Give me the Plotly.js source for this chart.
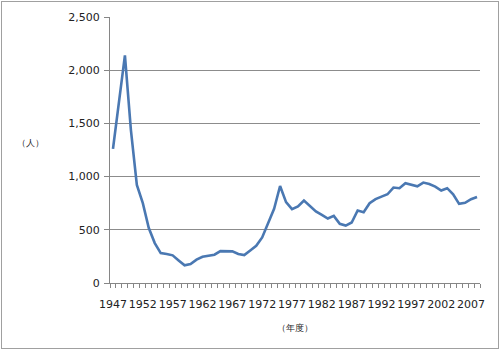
<!DOCTYPE html>
<html>
<head>
<meta charset="utf-8">
<script src="https://cdn.plot.ly/plotly-3.0.1.min.js"></script>
<style>
html,body{margin:0;padding:0;background:#fff;}
#chart{position:absolute;left:0;top:0;width:500px;height:350px;}
#frame{position:absolute;left:1px;top:1px;width:496px;height:346px;border:1px solid #a0a0a0;pointer-events:none;z-index:10;}
</style>
</head>
<body>
<div id="chart"></div>
<div id="frame"></div>
<script>
const years = [];
for (let y = 1947; y <= 2008; y++) years.push(y);
const values = [
  1260, 1680, 2140, 1440, 922, 750, 516, 375, 281, 272,
  260, 212, 166, 178, 219, 247, 260, 266, 300, 300,
  297, 272, 262, 306, 350, 428, 556, 697, 912, 760,
  694, 719, 775, 719, 672, 640, 606, 631, 556, 540,
  569, 681, 666, 750, 788, 812, 834, 897, 891, 938,
  925, 909, 944, 931, 906, 869, 891, 834, 744, 753,
  788, 809
];
const labelYears = [1947, 1952, 1957, 1962, 1967, 1972, 1977, 1982, 1987, 1992, 1997, 2002, 2007];
const yTicks = [0, 500, 1000, 1500, 2000, 2500];

const trace = {
  x: years, y: values, type: 'scatter', mode: 'lines',
  line: {color: '#4a78b2', width: 2.6},
  hoverinfo: 'skip'
};
const layout = {
  width: 500, height: 350,
  margin: {l: 110, r: 20, t: 17, b: 67},
  paper_bgcolor: '#fff', plot_bgcolor: '#fff',
  showlegend: false,
  font: {family: '"DejaVu Sans", sans-serif', size: 11, color: '#222'},
  xaxis: {
    range: [1946.5, 2008.5],
    tickvals: labelYears, ticktext: labelYears.map(String),
    tickangle: 0,
    ticks: '', showgrid: false, zeroline: false,
    showline: true, linecolor: '#868686', linewidth: 1,
    ticklabelstandoff: 11,
    minor: {ticks: 'outside', tick0: 1946.5, dtick: 1, ticklen: 4, tickcolor: '#868686', showgrid: false},
    tickfont: {size: 11, color: '#222'},
    title: {text: '（年度）', font: {size: 9, color: '#222'}, standoff: 14}
  },
  yaxis: {
    range: [0, 2500],
    tickvals: yTicks, ticktext: yTicks.map(v => v.toLocaleString('en-US')),
    ticks: 'outside', ticklen: 5, tickcolor: '#868686',
    showgrid: true, gridcolor: '#8c8c8c', gridwidth: 1,
    zeroline: false, showline: true, linecolor: '#868686', linewidth: 1,
    ticklabelstandoff: 2,
    tickfont: {size: 11, color: '#222'},
    title: {text: ''}
  },
  annotations: [{
    text: '（人）', xref: 'paper', yref: 'paper', x: -0.215, y: 0.528,
    xanchor: 'center', yanchor: 'middle', showarrow: false,
    font: {size: 9, color: '#222'}
  }]
};
Plotly.newPlot('chart', [trace], layout, {staticPlot: true, displayModeBar: false});
</script>
</body>
</html>
